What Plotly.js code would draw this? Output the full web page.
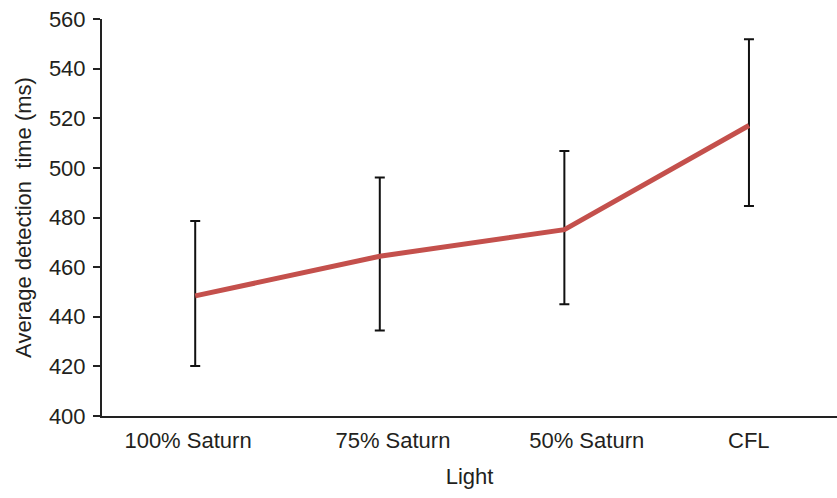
<!DOCTYPE html>
<html>
<head>
<meta charset="utf-8">
<script src="https://cdn.plot.ly/plotly-3.0.1.min.js"></script>
<style>
  html, body { margin: 0; padding: 0; background: #fff; }
  #chart { width: 837px; height: 498px; }
</style>
</head>
<body>
<div id="chart"></div>
<script>
// Values.
const lights = ['100% Saturn', '75% Saturn', '50% Saturn', 'CFL'];
const meanTime = [448.4, 464.4, 475.1, 517.1];
const upperTime = [478.6, 496.1, 506.8, 551.8];
const lowerTime = [420.2, 434.5, 445.0, 484.6];

const errPlus = meanTime.map((m, i) => upperTime[i] - m);
const errMinus = meanTime.map((m, i) => m - lowerTime[i]);

const textColor = '#231f20';
const font = { family: 'Liberation Sans, Arial, sans-serif', size: 22, color: textColor };

Plotly.newPlot(document.getElementById('chart'), [
    {
        x: lights,
        y: meanTime,
        type: 'scatter',
        mode: 'lines',
        line: { color: '#c4504c', width: 5 },
        error_y: {
            type: 'data',
            symmetric: false,
            array: errPlus,
            arrayminus: errMinus,
            color: '#111111',
            thickness: 2,
            width: 5
        }
    }
], {
    width: 837,
    height: 498,
    margin: { l: 102, r: 0, t: 19, b: 82 },
    paper_bgcolor: '#ffffff',
    plot_bgcolor: '#ffffff',
    font: font,
    showlegend: false,
    xaxis: {
        type: 'category',
        range: [-0.505, 3.477],
        showgrid: false,
        zeroline: false,
        showline: true,
        linecolor: '#222222',
        linewidth: 2,
        ticks: '',
        // The labels in the source sit a little off the points.
        tickmode: 'array',
        tickvals: [-0.039, 1.071, 2.121, 2.999],
        ticktext: lights,
        ticklabelstandoff: 4,
        tickfont: font,
        title: { text: 'Light', font: font, standoff: 16 }
    },
    yaxis: {
        range: [400, 560],
        dtick: 20,
        showgrid: false,
        zeroline: false,
        showline: true,
        linecolor: '#222222',
        linewidth: 2,
        ticks: 'outside',
        ticklen: 7,
        tickwidth: 2,
        tickcolor: '#222222',
        ticklabelstandoff: 3,
        tickfont: font,
        title: { text: 'Average detection&nbsp; time (ms)', font: font, standoff: 11 }
    }
}, { displayModeBar: false, staticPlot: true });
</script>
</body>
</html>
